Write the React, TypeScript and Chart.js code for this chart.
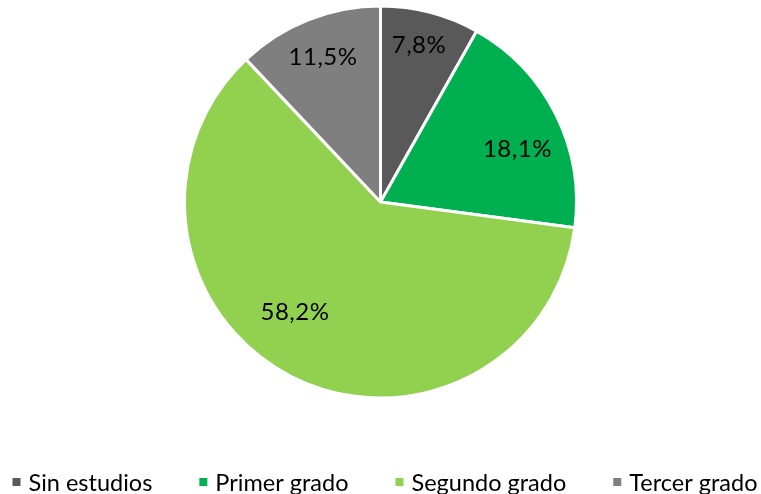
import React, { useEffect, useRef } from "react";
import { Chart, registerables } from "chart.js";

Chart.register(...registerables);

const categories = ["Sin estudios", "Primer grado", "Segundo grado", "Tercer grado"];
const values = [7.8, 18.1, 58.2, 11.5];
const colors = ["#595959", "#00B050", "#92D050", "#7F7F7F"];
// label placement: fraction of radius and angle shift (degrees) from slice middle
const labelRadius = [0.822, 0.748, 0.713, 0.793];
const labelAngleShift = [-0.87, 5.58, 10.61, -0.05];

const FONT = "Lato, 'Open Sans', sans-serif";

const fmt = (v: number) => v.toFixed(1).replace(".", ",") + "%";

const labelPlugin = {
  id: "sliceLabels",
  afterDatasetsDraw(chart: any) {
    const ctx = chart.ctx;
    const meta = chart.getDatasetMeta(0);
    ctx.save();
    ctx.font = `24px ${FONT}`;
    try { (ctx as any).letterSpacing = "0.5px"; } catch (e) {}
    ctx.fillStyle = "#000000";
    ctx.textAlign = "center";
    ctx.textBaseline = "middle";
    meta.data.forEach((arc: any, i: number) => {
      const p = arc.getProps(["x", "y", "startAngle", "endAngle", "outerRadius"], true);
      const mid = (p.startAngle + p.endAngle) / 2 + (labelAngleShift[i] * Math.PI) / 180;
      const r = p.outerRadius * labelRadius[i];
      ctx.fillText(fmt(values[i]), p.x + Math.cos(mid) * r, p.y + Math.sin(mid) * r);
    });
    ctx.restore();
  },
};

const legendPlugin = {
  id: "customLegend",
  afterDraw(chart: any) {
    const ctx = chart.ctx;
    ctx.save();
    ctx.font = `23.5px ${FONT}`;
    try { (ctx as any).letterSpacing = "0px"; } catch (e) {}
    ctx.textBaseline = "middle";
    const box = 8;
    const boxGap = 8;
    const itemGap = 47;
    const widths = categories.map((c) => box + boxGap + ctx.measureText(c).width);
    const total = widths.reduce((a, b) => a + b, 0) + itemGap * (categories.length - 1);
    let x = chart.width / 2 - total / 2 + 4.5;
    const y = 482;
    categories.forEach((c, i) => {
      ctx.fillStyle = colors[i];
      ctx.fillRect(x, y - box / 2, box, box);
      ctx.fillStyle = "#000000";
      ctx.textAlign = "left";
      ctx.fillText(c, x + box + boxGap, y + 1);
      x += widths[i] + itemGap;
    });
    ctx.restore();
  },
};

export default function App() {
  const ref = useRef<HTMLCanvasElement>(null);
  useEffect(() => {
    if (!ref.current) return;
    const chart = new Chart(ref.current, {
      type: "pie",
      data: {
        labels: categories,
        datasets: [
          {
            data: values,
            backgroundColor: colors,
            borderColor: "#FFFFFF",
            borderWidth: 3,
            radius: 196,
          } as any,
        ],
      },
      options: {
        responsive: false,
        animation: false,
        layout: { padding: { top: 0, bottom: 90, left: 0, right: 0 } },
        plugins: {
          legend: { display: false },
          tooltip: { enabled: false },
        },
      },
      plugins: [labelPlugin, legendPlugin],
    });
    return () => chart.destroy();
  }, []);
  return (
    <div style={{ position: "absolute", left: 0, top: 0, width: 761, height: 494, background: "#fff" }}>
      <canvas ref={ref} width={761} height={494} />
    </div>
  );
}
